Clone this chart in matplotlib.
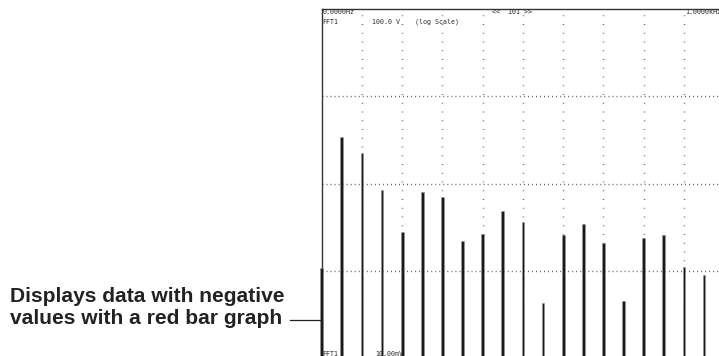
import numpy as np
import matplotlib.pyplot as plt

# FFT spectrum, one line every 50 Hz, amplitude in volts (log axis 10 mV .. 100 V)
freqs = [0, 50, 100, 150, 200, 250, 300, 350, 400, 450,
         500, 550, 600, 650, 700, 750, 800, 850, 900, 950]
amps = [0.107, 3.37, 2.23, 0.844, 0.279, 0.792, 0.695, 0.220, 0.267, 0.485,
        0.366, 0.042, 0.258, 0.344, 0.209, 0.044, 0.237, 0.258, 0.109, 0.090]

W, H = 719, 356
fig = plt.figure(figsize=(W / 100, H / 100), dpi=100)

def fx(px):
    return px / W

def fy(py):
    return 1 - py / H

# plot area: 0 Hz at x=321.7, 1 kHz at x=724.2; 100 V at y=8.5, 10 mV at y=358.5
left, right, top, bottom = 321.7, 724.2, 8.5, 358.5
ax = fig.add_axes([fx(left), fy(bottom), (right - left) / W, (bottom - top) / H])
ax.set_xlim(0, 1000)
ax.set_yscale('log')
ax.set_ylim(1e-2, 1e2)

ax.bar(freqs, amps, width=7, bottom=1e-3, color='#1a1a1a',
       edgecolor='#9a9a9a', linewidth=0.4, zorder=3, clip_on=False)

for f in range(100, 1000, 100):
    ax.axvline(f, color='#6a6a6a', lw=1.0, ls=(0, (0.7, 5.6)), zorder=1)
for v in [1e-1, 1e0, 1e1]:
    ax.axhline(v, color='#5a5a5a', lw=1.0, ls=(0, (0.7, 2.2)), zorder=1)

ax.set_xticks([])
ax.set_yticks([])
ax.yaxis.set_minor_locator(plt.NullLocator())
for s in ['right', 'bottom']:
    ax.spines[s].set_visible(False)
for s in ['left', 'top']:
    ax.spines[s].set_color('#333333')
    ax.spines[s].set_linewidth(1.0)

mono = dict(family='DejaVu Sans Mono', fontsize=4.8, color='#2a2a2a')
fig.text(fx(322.5), fy(12), '0.0000Hz', va='center', ha='left', **mono)
fig.text(fx(322.5), fy(22), 'FFT1', va='center', ha='left', **mono)
fig.text(fx(372), fy(22), '100.0 V', va='center', ha='left', **mono)
fig.text(fx(415), fy(22), '(log Scale)', va='center', ha='left', **mono)
fig.text(fx(492), fy(12), '<<  101 >>', va='center', ha='left', **mono)
fig.text(fx(685), fy(12), '1.0000kHz', va='center', ha='left', **mono)
fig.text(fx(322.5), fy(354), 'FFT1', va='center', ha='left', **mono)
fig.text(fx(375), fy(354), '10.00mV', va='center', ha='left', **mono)

fig.text(fx(10), fy(307.5), 'Displays data with negative\nvalues with a red bar graph',
         ha='left', va='center', family='Liberation Sans', fontweight='bold',
         fontsize=15.1, color='#222222', linespacing=1.25)
fig.add_artist(plt.Line2D([fx(290), fx(321.5)], [fy(320), fy(320)],
                          color='#222222', lw=0.9))

fig.savefig('out.png', dpi=100)
